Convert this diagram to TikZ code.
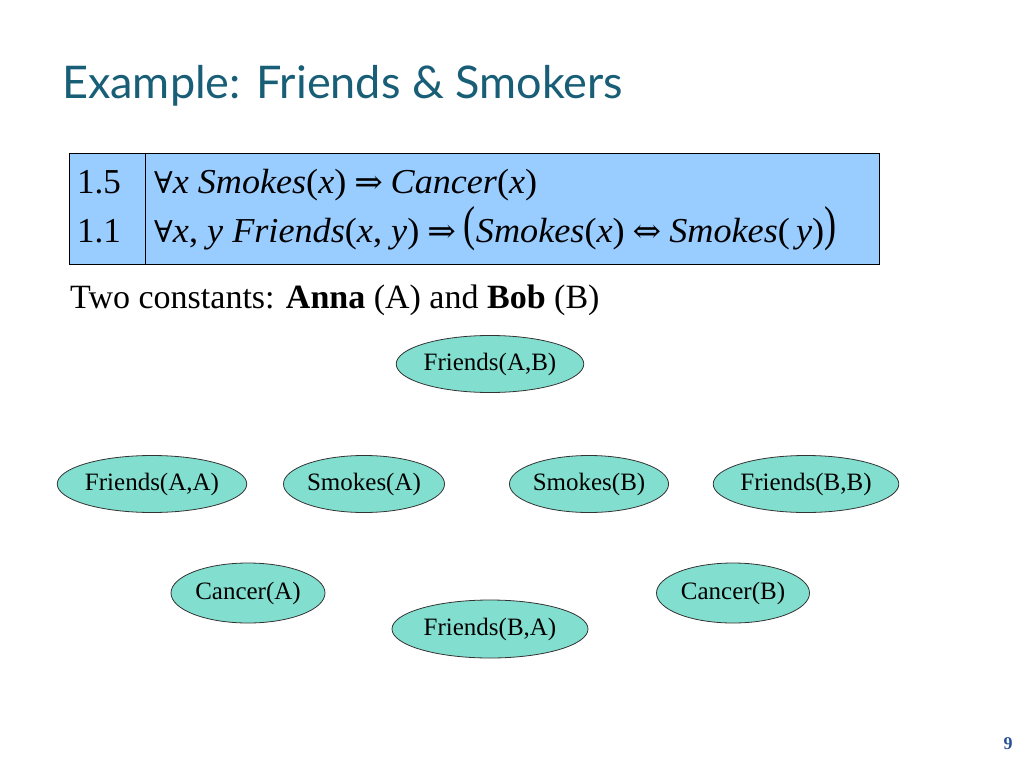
\documentclass[tikz,border=0pt]{standalone}
\usepackage{fontspec}
\usepackage{graphicx}
\setmainfont{Liberation Serif}
\newfontfamily\titlefont{Lato}
\newfontfamily\symfont{DejaVu Serif}
\usetikzlibrary{shapes.geometric}
\definecolor{titleteal}{RGB}{23,94,118}
\definecolor{boxblue}{RGB}{153,204,255}
\definecolor{nodeteal}{RGB}{130,223,207}
\definecolor{pageblue}{RGB}{40,80,150}
\tikzset{
  atom/.style={ellipse, draw=black!80, line width=0.8pt, fill=nodeteal, inner sep=0pt,
     minimum height=57pt, font=\fontsize{25}{28}\selectfont},
  rowtxt/.style={anchor=base west, inner sep=0pt, font=\fontsize{35}{40}\selectfont},
}
\newcommand{\fvar}[1]{\textit{#1}}
\newcommand{\symb}[1]{{\symfont\fontsize{30}{32}\selectfont #1}}
\newcommand{\arr}[1]{\hspace{0.22em}{\symfont\fontsize{33}{36}\selectfont #1}\hspace{0.22em}}
\newcommand{\bigparen}[1]{\raisebox{0.05em}{\scalebox{1}[1.4]{#1}}}
\begin{document}
\begin{tikzpicture}[x=1pt,y=-1pt]
\useasboundingbox (0,0) rectangle (1024,768);
% title
\node[anchor=base west, inner sep=0pt, text=titleteal, font=\titlefont\fontsize{45}{50}\selectfont] (title) at (62,98) {Example: Friends \& Smokers};
% formula box
\path[fill=boxblue, draw=black, line width=1pt] (69,153) rectangle (879,264);
\draw[line width=1pt] (145,153) -- (145,264);
\node[rowtxt] (w1) at (77,193) {1.5};
\node[rowtxt] (w2) at (77,242) {1.1};
\node[rowtxt] (f1) at (154,193) {\resizebox{383pt}{\height}{\symb{∀}\fvar{x Smokes}(\fvar{x})\arr{⇒}\fvar{Cancer}(\fvar{x})}};
\node[rowtxt] (f2) at (154,242) {\resizebox{682pt}{\height}{\symb{∀}\fvar{x}, \fvar{y Friends}(\fvar{x}, \fvar{y})\arr{⇒}\bigparen{(}\fvar{Smokes}(\fvar{x})\arr{⇔}\fvar{Smokes}(\,\fvar{y})\bigparen{)}}};
% constants line
\node[anchor=base west, inner sep=0pt, font=\fontsize{34}{38}\selectfont] (consts) at (70,308) {Two constants: \textbf{Anna} (A) and \textbf{Bob} (B)};
% ground atoms
\node[atom, minimum width=187pt] (fab) at (490,364) {Friends(A,B)};
\node[atom, minimum width=189pt] (faa) at (152,484) {Friends(A,A)};
\node[atom, minimum width=150pt] (sa) at (364,484) {Smokes(A)};
\node[atom, minimum width=155pt] (sb) at (589,484) {Smokes(B)};
\node[atom, minimum width=181pt] (fbb) at (806,484) {Friends(B,B)};
\node[atom, minimum width=154pt, minimum height=60pt] (ca) at (248,593) {Cancer(A)};
\node[atom, minimum width=196pt, minimum height=58pt] (fba) at (490,629) {Friends(B,A)};
\node[atom, minimum width=153pt, minimum height=60pt] (cb) at (733,593) {Cancer(B)};
% page number
\node[anchor=base, inner sep=0pt, text=pageblue, font=\bfseries\fontsize{18}{20}\selectfont] (pg) at (1008,749) {9};
\end{tikzpicture}
\end{document}
